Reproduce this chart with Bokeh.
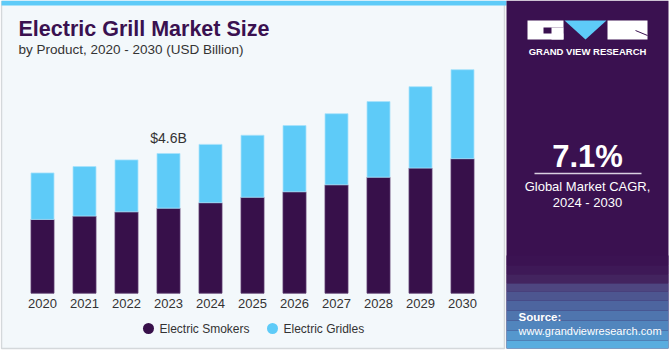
from bokeh.plotting import figure
from bokeh.models import Range1d
from bokeh.core.properties import value
from bokeh.embed import file_html
from bokeh.resources import INLINE

# ---- data ----
years = [2020, 2021, 2022, 2023, 2024, 2025, 2026, 2027, 2028, 2029, 2030]
year_labels = [str(y) for y in years]
smokers = [2.43, 2.54, 2.68, 2.80, 2.98, 3.16, 3.34, 3.57, 3.82, 4.12, 4.43]
gridles = [1.53, 1.63, 1.71, 1.80, 1.92, 2.04, 2.18, 2.34, 2.49, 2.68, 2.93]
series_names = ["Electric Smokers", "Electric Gridles"]
annot_year = 2023
annot_text = "$4.6B"
cagr_text = "7.1%"

DARK = "#37104a"
CYAN = "#5ecbf8"
FONT = value("Liberation Sans")

W, H = 671, 350
p = figure(width=W, height=H, output_backend="svg", toolbar_location=None,
           x_range=Range1d(0, W), y_range=Range1d(H, 0),
           x_axis_location=None, y_axis_location=None, min_border=0,
           outline_line_color=None, background_fill_color="#ffffff",
           border_fill_color="#ffffff")
p.grid.visible = False

# data ranges (value space)
px_per_year = 42.0
x0_year = 2019.0
p.extra_x_ranges = {"yr": Range1d(x0_year, x0_year + W / px_per_year)}
base_px = 292.7
px_per_b = 30.37
p.extra_y_ranges = {"val": Range1d(-(H - base_px) / px_per_b, base_px / px_per_b)}

# ---- background panels ----
p.quad(left=1, right=504, top=1, bottom=348, fill_color="#f3f8fb",
       line_color="#d4d8db", line_width=1.5)
p.quad(left=1, right=506, top=0, bottom=5, fill_color="#5ecbf8", line_color=None)

# right panel with gradient bottom
p.quad(left=506, right=668, top=0, bottom=348, fill_color="#3a1150", line_color=None)
grad = [(255, 265, "#3b1352"), (265, 274, "#3e1957"), (274, 283, "#43245f"),
        (283, 291, "#4e4680"), (291, 300, "#4d5690"), (300, 310, "#4d659f"),
        (310, 320, "#4f75ae"), (320, 330, "#5185bd"), (330, 340, "#5597cd"),
        (340, 348, "#5aaddf")]
for t, b, c in grad:
    p.quad(left=506, right=668, top=t, bottom=b, fill_color=c, line_color=None)

# logo
p.quad(left=527, right=563, top=20, bottom=39, fill_color="white", line_color=None)
p.quad(left=543, right=563, top=27, bottom=33, fill_color="#3a1150", line_color=None)
p.quad(left=551, right=563, top=27, bottom=39, fill_color="white", line_color=None)
p.patch(x=[564, 606, 585], y=[20, 20, 39], fill_color="#5ecbf8", line_color=None)
p.quad(left=607, right=647, top=20, bottom=39, fill_color="white", line_color=None)
p.line(x=[635, 647], y=[30, 35], line_color="#3a1150", line_width=1)
p.text(x=[587], y=[51], text=["GRAND VIEW RESEARCH"], text_color="white",
       text_font=FONT, text_font_style="bold", text_font_size="9.5px",
       text_align="center", text_baseline="middle")

# CAGR
p.text(x=[587], y=[156], text=[cagr_text], text_color="white", text_font=FONT,
       text_font_style="bold", text_font_size="31px", text_align="center",
       text_baseline="middle")
p.line(x=[534, 641], y=[173, 173], line_color="#d9d0e0", line_width=1.5)
p.text(x=[587, 587], y=[186, 202], text=["Global Market CAGR,", "2024 - 2030"],
       text_color="white", text_font=FONT, text_font_size="13px",
       text_align="center", text_baseline="middle")

# source
p.text(x=[518], y=[316], text=["Source:"], text_color="white", text_font=FONT,
       text_font_style="bold", text_font_size="11.5px", text_baseline="middle")
p.text(x=[518], y=[330], text=["www.grandviewresearch.com"], text_color="white",
       text_font=FONT, text_font_size="11px", text_baseline="middle")

# titles
p.text(x=[18], y=[28], text=["Electric Grill Market Size"], text_color="#3a1150",
       text_font=FONT, text_font_style="bold", text_font_size="21.5px",
       text_baseline="middle")
p.text(x=[18], y=[49], text=["by Product, 2020 - 2030 (USD Billion)"], text_color="#333333",
       text_font=FONT, text_font_size="13.5px", text_baseline="middle")

# ---- bars ----
totals = [s + g for s, g in zip(smokers, gridles)]
bw = 23 / px_per_year
p.vbar(x=years, bottom=0, top=smokers, width=bw, fill_color=DARK,
       line_color="#5a3a6e", line_width=0.8,
       x_range_name="yr", y_range_name="val")
p.vbar(x=years, bottom=smokers, top=totals, width=bw, fill_color=CYAN,
       line_color="#a8e2fb", line_width=0.8,
       x_range_name="yr", y_range_name="val")

# annotation above 2023
i = years.index(annot_year)
p.text(x=[annot_year], y=[totals[i] + 0.5], text=[annot_text], text_color="#333333",
       text_font=FONT, text_font_size="14px", text_align="center",
       text_baseline="middle", x_range_name="yr", y_range_name="val")

# year labels
p.text(x=years, y=[-0.33] * len(years), text=year_labels, text_color="#333333",
       text_font=FONT, text_font_size="13px", text_align="center",
       text_baseline="middle", x_range_name="yr", y_range_name="val")

# legend
p.scatter(x=[148, 272], y=[328, 328], size=11, marker="circle",
          fill_color=[DARK, CYAN], line_color=None)
p.text(x=[159, 283], y=[328, 328], text=series_names, text_color="#333333",
       text_font=FONT, text_font_size="12px", text_baseline="middle")

open("out.html", "w").write(file_html(p, INLINE))
